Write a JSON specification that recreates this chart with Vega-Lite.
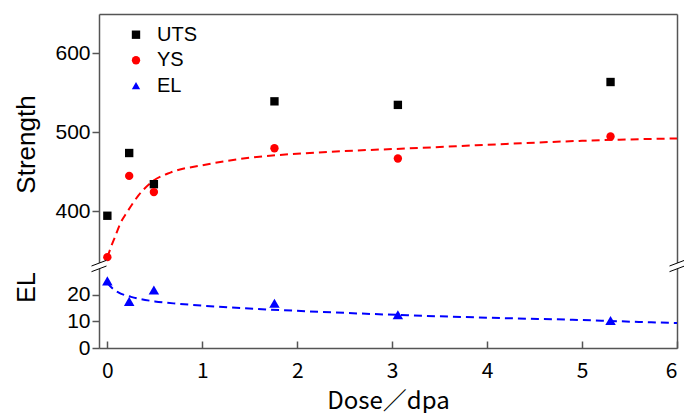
{
  "$schema": "https://vega.github.io/schema/vega-lite/v6.json",
  "background": "white",
  "padding": {"left": 13, "top": 14, "right": 0, "bottom": 0},
  "spacing": 0,
  "bounds": "flush",
  "config": {"view": {"stroke": null}, "font": "Liberation Sans"},
  "datasets": {
    "pts": [
      {"series": "UTS", "dose": 0, "value": 394},
      {"series": "UTS", "dose": 0.23, "value": 473.5},
      {"series": "UTS", "dose": 0.49, "value": 434},
      {"series": "UTS", "dose": 1.76, "value": 539},
      {"series": "UTS", "dose": 3.06, "value": 534.5},
      {"series": "UTS", "dose": 5.3, "value": 563.5},
      {"series": "YS", "dose": 0, "value": 341.5},
      {"series": "YS", "dose": 0.23, "value": 444.5},
      {"series": "YS", "dose": 0.49, "value": 424},
      {"series": "YS", "dose": 1.76, "value": 479.5},
      {"series": "YS", "dose": 3.06, "value": 466.5},
      {"series": "YS", "dose": 5.3, "value": 494.5},
      {"series": "EL", "dose": 0, "value": 25.2},
      {"series": "EL", "dose": 0.23, "value": 17.5},
      {"series": "EL", "dose": 0.49, "value": 21.8},
      {"series": "EL", "dose": 1.76, "value": 16.8},
      {"series": "EL", "dose": 3.06, "value": 12.5},
      {"series": "EL", "dose": 5.3, "value": 10.3}
    ],
    "fit": [
      {"series": "YS", "dose": 0, "value": 341},
      {"series": "YS", "dose": 0.04, "value": 355},
      {"series": "YS", "dose": 0.08, "value": 367},
      {"series": "YS", "dose": 0.14, "value": 385},
      {"series": "YS", "dose": 0.21, "value": 399},
      {"series": "YS", "dose": 0.33, "value": 420},
      {"series": "YS", "dose": 0.47, "value": 437},
      {"series": "YS", "dose": 0.67, "value": 449},
      {"series": "YS", "dose": 1.0, "value": 458},
      {"series": "YS", "dose": 1.5, "value": 467.5},
      {"series": "YS", "dose": 2.2, "value": 474},
      {"series": "YS", "dose": 3.3, "value": 480},
      {"series": "YS", "dose": 4.2, "value": 485},
      {"series": "YS", "dose": 5.0, "value": 489},
      {"series": "YS", "dose": 6.0, "value": 492},
      {"series": "EL", "dose": 0, "value": 24.5},
      {"series": "EL", "dose": 0.05, "value": 22.5},
      {"series": "EL", "dose": 0.12, "value": 20.8},
      {"series": "EL", "dose": 0.25, "value": 19.2},
      {"series": "EL", "dose": 0.5, "value": 17.5},
      {"series": "EL", "dose": 0.75, "value": 16.6},
      {"series": "EL", "dose": 1.0, "value": 15.9},
      {"series": "EL", "dose": 1.4, "value": 15.0},
      {"series": "EL", "dose": 2.1, "value": 13.8},
      {"series": "EL", "dose": 3.16, "value": 12.3},
      {"series": "EL", "dose": 4.2, "value": 11.2},
      {"series": "EL", "dose": 4.9, "value": 10.6},
      {"series": "EL", "dose": 5.6, "value": 9.8},
      {"series": "EL", "dose": 6.0, "value": 9.4}
    ]
  },
  "resolve": {"scale": {"color": "shared", "shape": "shared"}, "legend": {"color": "shared", "shape": "shared"}},
  "vconcat": [
    {
      "width": 578,
      "height": 252,
      "resolve": {"axis": {"y": "independent"}},
      "layer": [
        {
          "data": {"name": "fit"},
          "transform": [{"filter": "datum.series === 'YS'"}],
          "mark": {"type": "line", "color": "#ff0000", "strokeDash": [8, 5], "strokeWidth": 2, "interpolate": "monotone"},
          "encoding": {
            "x": {"field": "dose", "type": "quantitative", "scale": {"domain": [-0.088, 6], "nice": false, "zero": false},
                  "axis": {"orient": "top", "labels": false, "ticks": false, "title": null, "grid": false, "domainColor": "#555", "domainWidth": 1.5}},
            "y": {"field": "value", "type": "quantitative", "scale": {"domain": [330.3, 649.7], "nice": false, "zero": false},
                  "axis": {"orient": "left", "values": [400, 500, 600], "grid": false, "title": "Strength",
                           "titleFont": "Liberation Sans", "titleFontSize": 26, "titleFontWeight": "normal", "titleColor": "black",
                           "titleAngle": -90, "titleX": -65, "titleY": 130, "titleBaseline": "alphabetic", "titleAlign": "center",
                           "labelFont": "Liberation Sans", "labelFontSize": 21, "labelColor": "black", "labelPadding": 2,
                           "tickSize": 7, "tickColor": "#555", "tickWidth": 1.5, "domainColor": "#555", "domainWidth": 1.5}}
          }
        },
        {
          "data": {"name": "pts"},
          "transform": [{"filter": "datum.series !== 'EL'"}],
          "mark": {"type": "point", "filled": true, "opacity": 1, "size": 70},
          "encoding": {
            "x": {"field": "dose", "type": "quantitative", "scale": {"domain": [-0.088, 6], "nice": false, "zero": false},
                  "axis": {"orient": "top", "labels": false, "ticks": false, "title": null, "grid": false, "domainColor": "#555", "domainWidth": 1.5}},
            "y": {"field": "value", "type": "quantitative", "scale": {"domain": [330.3, 649.7], "nice": false, "zero": false}, "axis": null},
            "color": {"field": "series", "type": "nominal", "scale": {"domain": ["UTS", "YS", "EL"], "range": ["#000000", "#ff0000", "#0000ff"]},
                      "legend": {"orient": "none", "legendX": 27, "legendY": 10.7, "title": null, "labelFont": "Liberation Sans", "labelFontSize": 20, "labelColor": "black", "symbolSize": 70, "labelOffset": 11, "rowPadding": 5.5, "padding": 0, "symbolStrokeWidth": 0}},
            "shape": {"field": "series", "type": "nominal", "scale": {"domain": ["UTS", "YS", "EL"], "range": ["square", "circle", "triangle-up"]},
                      "legend": {"orient": "none", "legendX": 27, "legendY": 10.7, "title": null, "labelFont": "Liberation Sans", "labelFontSize": 20, "labelColor": "black", "symbolSize": 70, "labelOffset": 11, "rowPadding": 5.5, "padding": 0, "symbolStrokeWidth": 0}}
          }
        },
        {
          "data": {"name": "pts"},
          "transform": [{"filter": "datum.series !== 'EL'"}],
          "mark": {"type": "point", "opacity": 0},
          "encoding": {
            "x": {"field": "dose", "type": "quantitative", "scale": {"domain": [-0.088, 6], "nice": false, "zero": false},
                  "axis": {"orient": "top", "labels": false, "ticks": false, "title": null, "grid": false, "domainColor": "#555", "domainWidth": 1.5}},
            "y": {"field": "value", "type": "quantitative", "scale": {"domain": [330.3, 649.7], "nice": false, "zero": false},
                  "axis": {"orient": "right", "labels": false, "ticks": false, "title": null, "grid": false, "domainColor": "#555", "domainWidth": 1.5}}
          }
        }
      ]
    },
    {
      "width": 578,
      "height": 82,
      "resolve": {"axis": {"y": "independent"}},
      "layer": [
        {
          "data": {"name": "fit"},
          "transform": [{"filter": "datum.series === 'EL'"}],
          "mark": {"type": "line", "color": "#0000ff", "strokeDash": [8, 5], "strokeWidth": 2, "interpolate": "monotone"},
          "encoding": {
            "x": {"field": "dose", "type": "quantitative", "scale": {"domain": [-0.088, 6], "nice": false, "zero": false},
                  "axis": {"orient": "bottom", "values": [0, 1, 2, 3, 4, 5, 6], "grid": false, "title": "Dose／dpa",
                           "titleFont": "Noto Sans CJK JP", "titleFontSize": 24, "titleFontWeight": "normal", "titleColor": "black", "titlePadding": 8,
                           "labelFont": "Noto Sans CJK JP", "labelFontSize": 21, "labelColor": "black", "labelPadding": 19,
                           "tickSize": -7, "tickColor": "#555", "tickWidth": 1.5, "domainColor": "#555", "domainWidth": 1.5}},
            "y": {"field": "value", "type": "quantitative", "scale": {"domain": [0, 30.8], "nice": false, "zero": false},
                  "axis": {"orient": "left", "values": [0, 10, 20], "grid": false, "title": "EL",
                           "titleFont": "Liberation Sans", "titleFontSize": 25, "titleFontWeight": "normal", "titleColor": "black",
                           "titleAngle": -90, "titleX": -65, "titleY": 21, "titleBaseline": "alphabetic", "titleAlign": "center",
                           "labelFont": "Liberation Sans", "labelFontSize": 21, "labelColor": "black", "labelPadding": 2,
                           "tickSize": 7, "tickColor": "#555", "tickWidth": 1.5, "domainColor": "#555", "domainWidth": 1.5}}
          }
        },
        {
          "data": {"name": "pts"},
          "transform": [{"filter": "datum.series === 'EL'"}],
          "mark": {"type": "point", "filled": true, "opacity": 1, "size": 110},
          "encoding": {
            "x": {"field": "dose", "type": "quantitative", "scale": {"domain": [-0.088, 6], "nice": false, "zero": false},
                  "axis": {"orient": "bottom", "values": [0, 1, 2, 3, 4, 5, 6], "grid": false, "title": "Dose／dpa",
                           "titleFont": "Noto Sans CJK JP", "titleFontSize": 24, "titleFontWeight": "normal", "titleColor": "black", "titlePadding": 8,
                           "labelFont": "Noto Sans CJK JP", "labelFontSize": 21, "labelColor": "black", "labelPadding": 19,
                           "tickSize": -7, "tickColor": "#555", "tickWidth": 1.5, "domainColor": "#555", "domainWidth": 1.5}},
            "y": {"field": "value", "type": "quantitative", "scale": {"domain": [0, 30.8], "nice": false, "zero": false}, "axis": null},
            "color": {"field": "series", "type": "nominal", "scale": {"domain": ["UTS", "YS", "EL"], "range": ["#000000", "#ff0000", "#0000ff"]},
                      "legend": {"orient": "none", "legendX": 27, "legendY": 10.7, "title": null, "labelFont": "Liberation Sans", "labelFontSize": 20, "labelColor": "black", "symbolSize": 70, "labelOffset": 11, "rowPadding": 5.5, "padding": 0, "symbolStrokeWidth": 0}},
            "shape": {"field": "series", "type": "nominal", "scale": {"domain": ["UTS", "YS", "EL"], "range": ["square", "circle", "triangle-up"]},
                      "legend": {"orient": "none", "legendX": 27, "legendY": 10.7, "title": null, "labelFont": "Liberation Sans", "labelFontSize": 20, "labelColor": "black", "symbolSize": 70, "labelOffset": 11, "rowPadding": 5.5, "padding": 0, "symbolStrokeWidth": 0}}
          }
        },
        {
          "data": {"name": "pts"},
          "transform": [{"filter": "datum.series === 'EL'"}],
          "mark": {"type": "point", "opacity": 0},
          "encoding": {
            "x": {"field": "dose", "type": "quantitative", "scale": {"domain": [-0.088, 6], "nice": false, "zero": false},
                  "axis": {"orient": "bottom", "values": [0, 1, 2, 3, 4, 5, 6], "grid": false, "title": "Dose／dpa",
                           "titleFont": "Noto Sans CJK JP", "titleFontSize": 24, "titleFontWeight": "normal", "titleColor": "black", "titlePadding": 8,
                           "labelFont": "Noto Sans CJK JP", "labelFontSize": 21, "labelColor": "black", "labelPadding": 19,
                           "tickSize": -7, "tickColor": "#555", "tickWidth": 1.5, "domainColor": "#555", "domainWidth": 1.5}},
            "y": {"field": "value", "type": "quantitative", "scale": {"domain": [0, 30.8], "nice": false, "zero": false},
                  "axis": {"orient": "right", "labels": false, "ticks": false, "title": null, "grid": false, "domainColor": "#555", "domainWidth": 1.5}}
          }
        },
        {
          "data": {"values": [{}]},
          "mark": {"type": "point", "shape": "M-1,0L1,-0.76L1,0L-1,0.76Z", "filled": true, "fill": "white", "strokeWidth": 0, "opacity": 1, "size": 225},
          "encoding": {
            "x": {"datum": -0.088, "type": "quantitative", "scale": {"domain": [-0.088, 6], "nice": false, "zero": false},
                  "axis": {"orient": "bottom", "values": [0, 1, 2, 3, 4, 5, 6], "grid": false, "title": "Dose／dpa",
                           "titleFont": "Noto Sans CJK JP", "titleFontSize": 24, "titleFontWeight": "normal", "titleColor": "black", "titlePadding": 8,
                           "labelFont": "Noto Sans CJK JP", "labelFontSize": 21, "labelColor": "black", "labelPadding": 19,
                           "tickSize": -7, "tickColor": "#555", "tickWidth": 1.5, "domainColor": "#555", "domainWidth": 1.5}},
            "y": {"datum": 30.8, "type": "quantitative", "scale": {"domain": [0, 30.8], "nice": false, "zero": false}, "axis": null}
          }
        },
        {
          "data": {"values": [{}]},
          "mark": {"type": "point", "shape": "M-1,0L1,-0.76L1,0L-1,0.76Z", "filled": true, "fill": "white", "strokeWidth": 0, "opacity": 1, "size": 225},
          "encoding": {
            "x": {"datum": 6, "type": "quantitative", "scale": {"domain": [-0.088, 6], "nice": false, "zero": false},
                  "axis": {"orient": "bottom", "values": [0, 1, 2, 3, 4, 5, 6], "grid": false, "title": "Dose／dpa",
                           "titleFont": "Noto Sans CJK JP", "titleFontSize": 24, "titleFontWeight": "normal", "titleColor": "black", "titlePadding": 8,
                           "labelFont": "Noto Sans CJK JP", "labelFontSize": 21, "labelColor": "black", "labelPadding": 19,
                           "tickSize": -7, "tickColor": "#555", "tickWidth": 1.5, "domainColor": "#555", "domainWidth": 1.5}},
            "y": {"datum": 30.8, "type": "quantitative", "scale": {"domain": [0, 30.8], "nice": false, "zero": false}, "axis": null}
          }
        },
        {
          "data": {"values": [{}]},
          "mark": {"type": "point", "shape": "M-1,0L1,-0.76M-1,0.76L1,0", "filled": false, "stroke": "black", "strokeWidth": 1, "opacity": 1, "size": 225},
          "encoding": {
            "x": {"datum": -0.088, "type": "quantitative", "scale": {"domain": [-0.088, 6], "nice": false, "zero": false},
                  "axis": {"orient": "bottom", "values": [0, 1, 2, 3, 4, 5, 6], "grid": false, "title": "Dose／dpa",
                           "titleFont": "Noto Sans CJK JP", "titleFontSize": 24, "titleFontWeight": "normal", "titleColor": "black", "titlePadding": 8,
                           "labelFont": "Noto Sans CJK JP", "labelFontSize": 21, "labelColor": "black", "labelPadding": 19,
                           "tickSize": -7, "tickColor": "#555", "tickWidth": 1.5, "domainColor": "#555", "domainWidth": 1.5}},
            "y": {"datum": 30.8, "type": "quantitative", "scale": {"domain": [0, 30.8], "nice": false, "zero": false}, "axis": null}
          }
        },
        {
          "data": {"values": [{}]},
          "mark": {"type": "point", "shape": "M-1,0L1,-0.76M-1,0.76L1,0", "filled": false, "stroke": "black", "strokeWidth": 1, "opacity": 1, "size": 225},
          "encoding": {
            "x": {"datum": 6, "type": "quantitative", "scale": {"domain": [-0.088, 6], "nice": false, "zero": false},
                  "axis": {"orient": "bottom", "values": [0, 1, 2, 3, 4, 5, 6], "grid": false, "title": "Dose／dpa",
                           "titleFont": "Noto Sans CJK JP", "titleFontSize": 24, "titleFontWeight": "normal", "titleColor": "black", "titlePadding": 8,
                           "labelFont": "Noto Sans CJK JP", "labelFontSize": 21, "labelColor": "black", "labelPadding": 19,
                           "tickSize": -7, "tickColor": "#555", "tickWidth": 1.5, "domainColor": "#555", "domainWidth": 1.5}},
            "y": {"datum": 30.8, "type": "quantitative", "scale": {"domain": [0, 30.8], "nice": false, "zero": false}, "axis": null}
          }
        }
      ]
    }
  ]
}
